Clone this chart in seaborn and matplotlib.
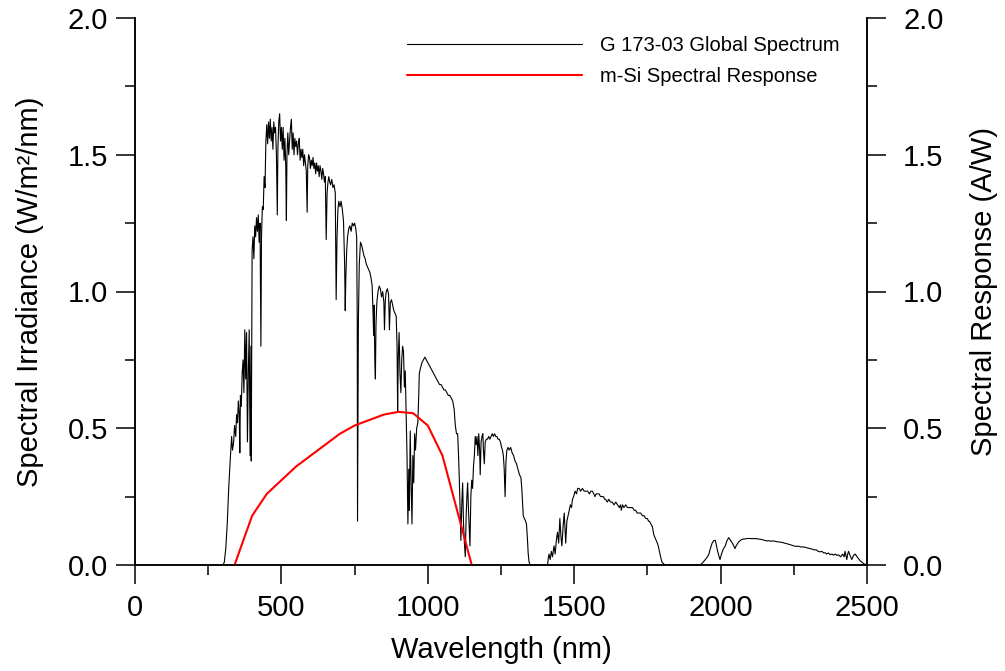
import matplotlib
matplotlib.use("Agg")
import matplotlib.pyplot as plt
import seaborn as sns
import numpy as np
import pandas as pd
from matplotlib.ticker import MultipleLocator, FormatStrFormatter
from matplotlib.lines import Line2D

# ---- data ----
wavelength = [
    280, 300, 305, 310, 315, 320, 325, 330, 333, 337, 340, 344, 347, 350, 353, 356, 358, 360, 363, 366,
    369, 372, 375, 378, 381, 384, 387, 390, 393, 396, 397, 400, 403, 406, 409, 412, 415, 418, 421, 424,
    427, 430, 432, 435, 438, 441, 444, 447, 450, 453, 456, 459, 462, 465, 468, 471, 474, 477, 480, 483,
    486, 488, 491, 494, 497, 500, 503, 506, 509, 512, 515, 517, 519, 522, 525, 528, 531, 534, 537, 540,
    543, 546, 549, 552, 555, 558, 561, 564, 567, 570, 573, 576, 579, 582, 585, 588, 590, 593, 596, 599,
    602, 605, 608, 611, 614, 617, 620, 623, 626, 629, 632, 635, 638, 641, 644, 647, 650, 653, 656, 659,
    662, 665, 668, 672, 676, 680, 684, 687, 690, 693, 696, 700, 704, 708, 712, 716, 718, 720, 723, 726,
    730, 734, 738, 742, 746, 750, 754, 757, 759, 760, 761, 763, 766, 770, 774, 778, 782, 786, 790, 794,
    798, 802, 806, 810, 813, 815, 817, 819, 821, 823, 826, 830, 834, 838, 842, 846, 850, 852, 855, 858,
    862, 866, 869, 872, 876, 880, 884, 888, 892, 895, 897, 899, 902, 905, 908, 911, 914, 917, 920, 923,
    926, 929, 932, 935, 937, 940, 943, 946, 949, 952, 955, 958, 962, 966, 969, 971, 975, 980, 985, 990,
    995, 1000, 1005, 1010, 1015, 1020, 1025, 1030, 1035, 1040, 1045, 1050, 1055, 1060, 1065, 1070, 1075, 1080, 1085, 1090,
    1094, 1098, 1102, 1105, 1108, 1111, 1113, 1116, 1119, 1122, 1125, 1128, 1131, 1134, 1136, 1139, 1142, 1144, 1147, 1150,
    1153, 1156, 1159, 1162, 1165, 1168, 1171, 1174, 1177, 1179, 1182, 1185, 1188, 1190, 1193, 1196, 1200, 1204, 1208, 1212,
    1216, 1220, 1224, 1228, 1232, 1236, 1240, 1244, 1248, 1252, 1255, 1258, 1261, 1264, 1267, 1270, 1274, 1278, 1283, 1288,
    1293, 1298, 1303, 1308, 1313, 1318, 1321, 1324, 1326, 1330, 1334, 1337, 1340, 1343, 1346, 1350, 1400, 1409, 1412, 1414,
    1418, 1422, 1426, 1431, 1435, 1439, 1443, 1447, 1451, 1455, 1458, 1462, 1466, 1469, 1471, 1475, 1479, 1483, 1487, 1491,
    1494, 1498, 1503, 1508, 1512, 1517, 1522, 1528, 1534, 1540, 1546, 1552, 1557, 1562, 1567, 1571, 1575, 1580, 1585, 1590,
    1595, 1600, 1604, 1608, 1613, 1618, 1624, 1630, 1636, 1642, 1648, 1654, 1658, 1661, 1665, 1670, 1676, 1682, 1688, 1694,
    1699, 1705, 1710, 1715, 1721, 1727, 1733, 1739, 1744, 1750, 1754, 1757, 1762, 1767, 1772, 1776, 1780, 1784, 1787, 1791,
    1795, 1800, 1805, 1810, 1900, 1931, 1940, 1948, 1955, 1960, 1965, 1971, 1977, 1982, 1986, 1990, 1995, 1998, 2003, 2010,
    2016, 2022, 2028, 2034, 2040, 2045, 2049, 2053, 2056, 2062, 2068, 2073, 2080, 2087, 2094, 2101, 2108, 2115, 2122, 2130,
    2137, 2144, 2151, 2158, 2165, 2172, 2179, 2186, 2193, 2200, 2209, 2218, 2226, 2235, 2243, 2250, 2258, 2266, 2273, 2281,
    2289, 2297, 2305, 2313, 2320, 2326, 2333, 2340, 2346, 2352, 2357, 2362, 2368, 2374, 2380, 2386, 2392, 2398, 2403, 2410,
    2417, 2422, 2425, 2428, 2431, 2434, 2437, 2442, 2448, 2454, 2460, 2466, 2472, 2477, 2483, 2488, 2495, 2500,
]
irradiance = [
    0, 0, 0.01, 0.06, 0.15, 0.28, 0.38, 0.47, 0.42, 0.45, 0.51, 0.47, 0.55, 0.52, 0.60, 0.55, 0.41, 0.62, 0.58, 0.70,
    0.75, 0.63, 0.86, 0.68, 0.85, 0.45, 0.70, 0.86, 0.40, 0.80, 0.38, 1.15, 1.20, 1.12, 1.24, 1.20, 1.27, 1.22, 1.28, 1.18,
    1.25, 0.80, 1.20, 1.31, 1.30, 1.42, 1.38, 1.55, 1.61, 1.54, 1.62, 1.56, 1.63, 1.55, 1.60, 1.52, 1.62, 1.58, 1.60, 1.50,
    1.28, 1.52, 1.62, 1.65, 1.55, 1.60, 1.52, 1.60, 1.48, 1.56, 1.45, 1.26, 1.50, 1.58, 1.50, 1.55, 1.60, 1.63, 1.52, 1.58,
    1.50, 1.56, 1.53, 1.55, 1.50, 1.54, 1.56, 1.48, 1.52, 1.49, 1.52, 1.46, 1.50, 1.47, 1.44, 1.29, 1.46, 1.50, 1.49, 1.45,
    1.48, 1.46, 1.49, 1.45, 1.47, 1.43, 1.47, 1.44, 1.46, 1.42, 1.46, 1.44, 1.41, 1.45, 1.43, 1.40, 1.42, 1.19, 1.36, 1.40,
    1.42, 1.40, 1.39, 1.41, 1.38, 1.39, 1.36, 0.97, 1.20, 1.30, 1.33, 1.31, 1.33, 1.30, 1.26, 1.10, 0.93, 1.05, 1.15, 1.20,
    1.23, 1.24, 1.22, 1.25, 1.24, 1.25, 1.23, 1.20, 0.90, 0.16, 0.40, 0.90, 1.10, 1.18, 1.17, 1.15, 1.13, 1.12, 1.10, 1.09,
    1.08, 1.07, 1.05, 1.02, 0.92, 0.84, 0.95, 0.75, 0.68, 0.88, 0.96, 1.00, 1.02, 1.01, 0.98, 1.00, 0.96, 0.86, 0.97, 1.00,
    1.01, 0.99, 0.86, 0.96, 0.97, 0.95, 0.93, 0.92, 0.91, 0.80, 0.56, 0.75, 0.85, 0.70, 0.63, 0.75, 0.80, 0.78, 0.65, 0.71,
    0.55, 0.40, 0.15, 0.35, 0.20, 0.49, 0.30, 0.15, 0.40, 0.30, 0.48, 0.42, 0.50, 0.52, 0.62, 0.70, 0.72, 0.74, 0.75, 0.76,
    0.75, 0.74, 0.73, 0.72, 0.71, 0.70, 0.69, 0.68, 0.67, 0.66, 0.66, 0.65, 0.64, 0.64, 0.63, 0.62, 0.62, 0.61, 0.60, 0.57,
    0.51, 0.48, 0.48, 0.40, 0.30, 0.18, 0.09, 0.22, 0.30, 0.15, 0.08, 0.03, 0.18, 0.26, 0.30, 0.20, 0.12, 0.07, 0.25, 0.31,
    0.28, 0.36, 0.40, 0.47, 0.44, 0.47, 0.40, 0.48, 0.42, 0.33, 0.45, 0.47, 0.48, 0.42, 0.37, 0.45, 0.46, 0.46, 0.47, 0.46,
    0.47, 0.48, 0.47, 0.48, 0.47, 0.47, 0.46, 0.46, 0.45, 0.43, 0.42, 0.40, 0.35, 0.25, 0.38, 0.42, 0.43, 0.42, 0.43, 0.41,
    0.40, 0.38, 0.37, 0.35, 0.33, 0.32, 0.28, 0.22, 0.18, 0.17, 0.16, 0.15, 0.10, 0.04, 0.01, 0, 0, 0, 0.03, 0.04,
    0.02, 0.05, 0.03, 0.07, 0.04, 0.09, 0.12, 0.08, 0.17, 0.10, 0.07, 0.14, 0.19, 0.12, 0.08, 0.16, 0.18, 0.20, 0.22, 0.21,
    0.24, 0.25, 0.27, 0.26, 0.28, 0.28, 0.27, 0.28, 0.27, 0.27, 0.27, 0.26, 0.27, 0.27, 0.26, 0.25, 0.26, 0.26, 0.26, 0.25,
    0.25, 0.25, 0.24, 0.24, 0.23, 0.24, 0.23, 0.23, 0.22, 0.23, 0.22, 0.21, 0.22, 0.20, 0.22, 0.21, 0.22, 0.21, 0.21, 0.21,
    0.21, 0.20, 0.20, 0.19, 0.19, 0.19, 0.18, 0.18, 0.17, 0.17, 0.16, 0.16, 0.15, 0.14, 0.11, 0.10, 0.09, 0.08, 0.07, 0.05,
    0.03, 0.01, 0.005, 0, 0, 0, 0.01, 0.02, 0.03, 0.04, 0.06, 0.08, 0.09, 0.09, 0.07, 0.05, 0.03, 0.02, 0.04, 0.06,
    0.07, 0.09, 0.10, 0.09, 0.08, 0.07, 0.06, 0.07, 0.075, 0.085, 0.09, 0.094, 0.095, 0.096, 0.097, 0.097, 0.096, 0.097, 0.096, 0.095,
    0.094, 0.092, 0.090, 0.088, 0.089, 0.087, 0.088, 0.087, 0.085, 0.084, 0.083, 0.080, 0.078, 0.075, 0.072, 0.070, 0.068, 0.069, 0.066, 0.066,
    0.065, 0.062, 0.060, 0.058, 0.055, 0.056, 0.050, 0.048, 0.050, 0.044, 0.045, 0.040, 0.044, 0.038, 0.040, 0.036, 0.040, 0.035, 0.037, 0.030,
    0.040, 0.030, 0.050, 0.035, 0.020, 0.040, 0.050, 0.035, 0.020, 0.035, 0.040, 0.030, 0.022, 0.015, 0.010, 0.005, 0.002, 0.0,
]
resp_wavelength = [340, 400, 450, 550, 700, 750, 850, 900, 950, 1000, 1050, 1100, 1150]
resp_value = [0.0, 0.18, 0.26, 0.36, 0.48, 0.51, 0.55, 0.56, 0.555, 0.51, 0.40, 0.20, 0.0]

labels = ["G 173-03 Global Spectrum", "m-Si Spectral Response"]
x_ticks = [0, 500, 1000, 1500, 2000, 2500]
y_ticks = [0.0, 0.5, 1.0, 1.5, 2.0]

sns.set_style("ticks")
plt.rcParams['font.family'] = ['Liberation Sans', 'DejaVu Sans']
plt.rcParams['text.color'] = 'black'
plt.rcParams['axes.labelcolor'] = 'black'
plt.rcParams['xtick.color'] = 'black'
plt.rcParams['ytick.color'] = 'black'

spec = pd.DataFrame({"wl": wavelength, "E": irradiance})
resp = pd.DataFrame({"wl": resp_wavelength, "R": resp_value})

fig = plt.figure(figsize=(10.05, 6.71), dpi=100)
ax = fig.add_axes([135/1005, 1 - 565/671, (867-135)/1005, (565-18)/671])
ax2 = ax.twinx()

sns.lineplot(data=spec, x="wl", y="E", ax=ax, color="black", linewidth=0.8,
             estimator=None, sort=False)
sns.lineplot(data=resp, x="wl", y="R", ax=ax2, color="#ff0000", linewidth=1.5,
             estimator=None, sort=False)

for a in (ax, ax2):
    a.set_xlim(0, 2500)
    a.set_ylim(0, 2.0)
    a.spines['top'].set_visible(False)
    for s in a.spines.values():
        s.set_linewidth(1.1)
        s.set_color("black")
    a.yaxis.set_major_locator(MultipleLocator(0.5))
    a.yaxis.set_minor_locator(MultipleLocator(0.25))
    a.yaxis.set_major_formatter(FormatStrFormatter('%.1f'))
    a.tick_params(which='major', length=14, width=1.1, direction='out', labelsize=21,
                  colors='black', labelcolor='black')
    a.tick_params(which='minor', length=7.5, width=1.1, direction='out', colors='black')

ax.set_xticks(x_ticks)
ax.xaxis.set_minor_locator(MultipleLocator(250))
ax.set_yticks(y_ticks)
ax2.set_yticks(y_ticks)
ax.tick_params(axis='y', which='major', pad=5.5)
ax.tick_params(axis='x', which='major', pad=7)
ax2.tick_params(axis='y', which='major', pad=12)

ax.set_xlabel("Wavelength (nm)", fontsize=21, color='black')
ax.set_ylabel("Spectral Irradiance (W/m²/nm)", fontsize=21, color='black')
ax2.set_ylabel("Spectral Response (A/W)", fontsize=21, color='black')
ax.xaxis.set_label_coords(0.5, (565-636)/547)
ax.yaxis.set_label_coords((44-135)/732, 0.5)
ax2.yaxis.set_label_coords((970-135)/732, 0.5)

handles = [Line2D([], [], color="black", linewidth=0.8),
           Line2D([], [], color="#ff0000", linewidth=1.5)]
leg = ax2.legend(handles, labels, loc='upper left', bbox_to_anchor=(407/1005, 1 - 36/671),
                 bbox_transform=fig.transFigure, frameon=False, fontsize=14.5,
                 handlelength=8.7, handletextpad=0.9, labelspacing=0.6, borderpad=0,
                 borderaxespad=0)
for t in leg.get_texts():
    t.set_color('black')

fig.savefig("out.png", dpi=100)
